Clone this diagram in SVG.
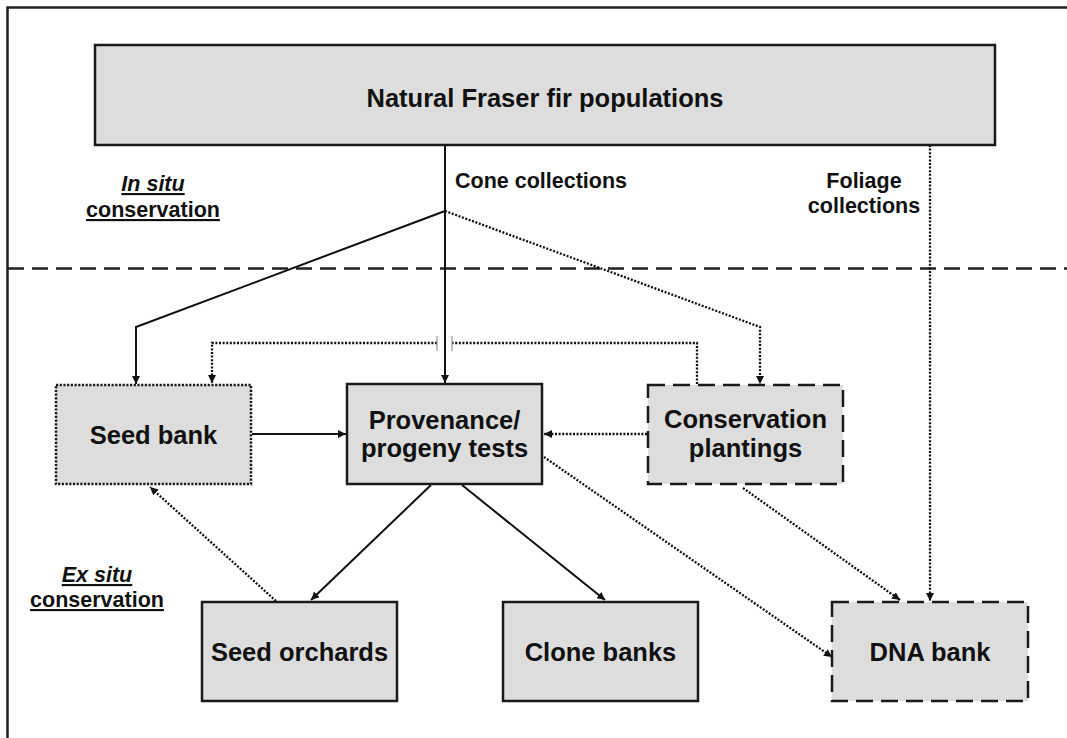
<svg xmlns="http://www.w3.org/2000/svg" width="1067" height="738" viewBox="0 0 1067 738">
<defs>
<style>
.t{font-family:"Liberation Sans",Arial,sans-serif;font-weight:bold;fill:#111;}
.box{fill:#dddddd;stroke:#1a1a1a;stroke-width:2.5;}
.dotb{stroke-dasharray:2.2 1.5;}
.dashb{stroke-dasharray:17 8;}
.c{fill:none;stroke:#111;stroke-width:2;}
.d{fill:none;stroke:#111;stroke-width:2.3;stroke-dasharray:2 1.6;}
</style>
<marker id="ah" viewBox="0 0 10 10" refX="10" refY="5" markerWidth="8" markerHeight="8" markerUnits="userSpaceOnUse" orient="auto">
<path d="M0,0 L10,5 L0,10 Z" fill="#111"/>
</marker>
</defs>
<rect width="1067" height="738" fill="#fff"/>
<g id="frame">
<path d="M7.5,745 V7.5 H1075" fill="none" stroke="#222" stroke-width="2.5"/>
<line x1="8" y1="268.5" x2="1067" y2="268.5" stroke="#222" stroke-width="2.5" stroke-dasharray="16 8"/>
</g>
<g id="labels">
<text class="t" x="153" y="191" font-size="21.5" text-anchor="middle" font-style="italic" text-decoration="underline">In situ</text>
<text class="t" x="153" y="217" font-size="21.5" text-anchor="middle" text-decoration="underline">conservation</text>
<text class="t" x="97" y="582" font-size="21.5" text-anchor="middle" font-style="italic" text-decoration="underline">Ex situ</text>
<text class="t" x="97" y="607" font-size="21.5" text-anchor="middle" text-decoration="underline">conservation</text>
<text class="t" x="455" y="188" font-size="21.5">Cone collections</text>
<text class="t" x="864" y="188" font-size="21.5" text-anchor="middle">Foliage</text>
<text class="t" x="864" y="213" font-size="21.5" text-anchor="middle">collections</text>
</g>
<g id="connectors">
<line class="c" x1="445" y1="145" x2="445" y2="383" marker-end="url(#ah)"/>
<polyline class="c" points="445,211 136,327 136,384" marker-end="url(#ah)"/>
<polyline class="d" points="445,211 760,327 760,384" marker-end="url(#ah)"/>
<line class="d" x1="930" y1="145" x2="930" y2="601" marker-end="url(#ah)"/>
<polyline class="d" points="697,384 697,343 452,343"/>
<polyline class="d" points="437,343 212,343 212,383" marker-end="url(#ah)"/>
<line x1="437" y1="336" x2="437" y2="351" stroke="#999" stroke-width="1.2"/>
<line x1="452" y1="336" x2="452" y2="351" stroke="#999" stroke-width="1.2"/>
<line class="c" x1="252" y1="434" x2="346" y2="434" marker-end="url(#ah)"/>
<line class="d" x1="647" y1="434" x2="544" y2="434" marker-end="url(#ah)"/>
<line class="c" x1="431" y1="485" x2="311" y2="600" marker-end="url(#ah)"/>
<line class="c" x1="462" y1="485" x2="605" y2="600" marker-end="url(#ah)"/>
<line class="d" x1="276" y1="601" x2="150" y2="487" marker-end="url(#ah)"/>
<line class="d" x1="544" y1="457" x2="832" y2="657" marker-end="url(#ah)"/>
<line class="d" x1="743" y1="488" x2="900" y2="600" marker-end="url(#ah)"/>
</g>
<g id="natural">
<rect class="box" x="95" y="45" width="900" height="100"/>
<text class="t" x="545" y="107" font-size="25.5" text-anchor="middle">Natural Fraser fir populations</text>
</g>
<g id="seedbank">
<rect class="box dotb" x="56" y="385" width="195" height="99"/>
<text class="t" x="153.5" y="444" font-size="25.5" text-anchor="middle">Seed bank</text>
</g>
<g id="provenance">
<rect class="box" x="347" y="384" width="195" height="100"/>
<text class="t" x="444.5" y="429" font-size="25.5" text-anchor="middle">Provenance/</text>
<text class="t" x="444.5" y="457" font-size="25.5" text-anchor="middle">progeny tests</text>
</g>
<g id="conservation">
<rect class="box dashb" x="648" y="385" width="195" height="99"/>
<text class="t" x="745.5" y="428" font-size="25.5" text-anchor="middle">Conservation</text>
<text class="t" x="745.5" y="457" font-size="25.5" text-anchor="middle">plantings</text>
</g>
<g id="seedorchards">
<rect class="box" x="202" y="602" width="195" height="99"/>
<text class="t" x="299.5" y="661" font-size="25.5" text-anchor="middle">Seed orchards</text>
</g>
<g id="clonebanks">
<rect class="box" x="503" y="602" width="195" height="99"/>
<text class="t" x="600.5" y="661" font-size="25.5" text-anchor="middle">Clone banks</text>
</g>
<g id="dnabank">
<rect class="box dashb" x="832" y="602" width="196" height="99"/>
<text class="t" x="930" y="661" font-size="25.5" text-anchor="middle">DNA bank</text>
</g>
</svg>
